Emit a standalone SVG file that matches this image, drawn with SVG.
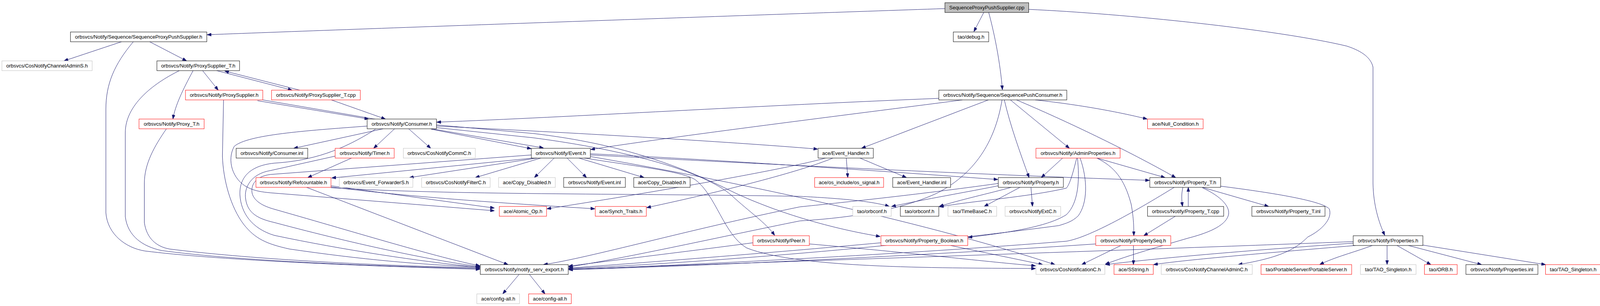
<svg xmlns="http://www.w3.org/2000/svg" width="4209" height="784" viewBox="0 0 4209 784" style="display:block">
<style>
.e{fill:none;stroke:#191970;stroke-width:1;marker-end:url(#ah)}
.nd rect{fill:#fff;stroke-width:1}
.k rect{stroke:#000}
.r rect{stroke:#ff0000}
.g rect{stroke:#bfbfbf}
.t rect{fill:#bfbfbf;stroke:#000}
.nd text{font-family:"Liberation Sans",Arial,Helvetica,sans-serif;font-size:13.3px;text-anchor:middle;fill:#000}
</style>
<defs>
<marker id="ah" viewBox="0 0 11 8" refX="11" refY="4" markerUnits="userSpaceOnUse" markerWidth="11" markerHeight="8" orient="auto"><path d="M0,0 L11,4 L0,8 z" fill="#191970" stroke="#191970" stroke-width="1"/></marker>
</defs>
<rect width="4209" height="784" fill="#fff"/>
<g id="diagram" transform="scale(0.975 1)">
<g id="connectors">
<path class="e" d="M2481,22 C2000,38 1000,72 544,89"/>
<path class="e" d="M2583,32 L2557,81"/>
<path class="e" d="M2596,32 C2612,90 2626,160 2632,230"/>
<path class="e" d="M2701,24 C2950,35 3350,75 3536,118 C3580,132 3600,150 3605,172 L3605,470 C3606,525 3620,570 3636,603"/>
<path class="e" d="M319,107 L168,156"/>
<path class="e" d="M393,107 L490,156"/>
<path class="e" d="M350,107 C300,165 278,215 278,280 L278,545 C282,600 330,635 380,643 C560,665 900,680 1260,690"/>
<path class="e" d="M471,181 C400,215 329,270 329,340 L329,555 C335,605 375,632 425,642 C600,665 900,680 1260,688"/>
<path class="e" d="M507,181 C480,230 460,270 454,305"/>
<path class="e" d="M532,181 L573,231"/>
<path class="e" d="M569,181 L767,231"/>
<path class="e" d="M787,231 L590,182"/>
<path class="e" d="M870,256 L1012,305"/>
<path class="e" d="M437,330 C405,375 379,420 379,470 L379,570 C385,612 412,632 445,638 C640,662 950,680 1260,686"/>
<path class="e" d="M587,256 L584,400 C586,460 605,530 640,575 C670,612 700,625 760,638 C950,665 1100,678 1260,684"/>
<path class="e" d="M676,258 L968,305"/>
<path class="e" d="M690,256 L1427,379"/>
<path class="e" d="M2465,252 C2000,270 1500,300 1147,313"/>
<path class="e" d="M2527,256 C2300,285 1800,345 1551,383"/>
<path class="e" d="M2595,256 L2262,380"/>
<path class="e" d="M2718,256 C2850,270 2950,290 3012,305"/>
<path class="e" d="M2653,256 L2808,380"/>
<path class="e" d="M2637,256 C2652,320 2678,390 2702,455"/>
<path class="e" d="M2669,256 C2800,310 2960,385 3087,455"/>
<path class="e" d="M2631,256 C2615,350 2570,440 2460,495 C2350,545 2200,560 2100,566 C1900,605 1650,660 1493,684"/>
<path class="e" d="M1006,330 L771,380"/>
<path class="e" d="M1036,330 L981,380"/>
<path class="e" d="M1073,330 L1131,380"/>
<path class="e" d="M1132,331 L1395,381"/>
<path class="e" d="M1146,323 C1500,340 1900,362 2147,382"/>
<path class="e" d="M964,323 C800,335 650,345 615,375 C595,410 610,460 650,480 C670,490 690,492 710,494 L1298,540"/>
<path class="e" d="M986,331 C900,385 820,412 720,418 C650,425 628,460 630,500 C633,545 660,585 720,603 C900,640 1100,670 1260,685"/>
<path class="e" d="M1146,320 L1400,342 C1600,365 1750,410 1900,480 C2000,530 2150,580 2311,606"/>
<path class="e" d="M1146,327 L1400,353 C1650,385 1850,440 1920,500 C1970,545 2010,570 2034,603"/>
<path class="e" d="M923,405 L808,455"/>
<path class="e" d="M880,400 L710,437 C660,445 640,480 645,510 C650,545 675,560 720,570 C950,630 1150,670 1260,683"/>
<path class="e" d="M1395,397 L710,447 C670,452 658,475 662,495 C667,515 690,528 720,536 C950,600 1150,660 1260,681"/>
<path class="e" d="M805,480 L1334,678"/>
<path class="e" d="M869,476 L1298,533"/>
<path class="e" d="M869,479 C1100,508 1400,525 1562,535"/>
<path class="e" d="M869,481 C1200,500 1600,495 2100,503 C2200,508 2290,515 2335,529"/>
<path class="e" d="M1400,405 L871,456"/>
<path class="e" d="M1410,405 L1075,455"/>
<path class="e" d="M1420,405 L1248,455"/>
<path class="e" d="M1455,405 L1403,455"/>
<path class="e" d="M1489,405 L1540,455"/>
<path class="e" d="M1520,405 L1691,455"/>
<path class="e" d="M1550,394 C1800,405 2200,430 2620,460"/>
<path class="e" d="M1550,397 C1900,415 2500,445 3018,462"/>
<path class="e" d="M1534,405 C1700,430 1790,440 1825,460 C1880,500 1900,600 1960,635 C2100,690 2500,686 2719,688"/>
<path class="e" d="M1550,401 C1900,460 2400,560 2770,678"/>
<path class="e" d="M1977,622 C1800,645 1600,668 1493,682"/>
<path class="e" d="M2125,625 C2400,648 2600,672 2719,681"/>
<path class="e" d="M2313,622 C2000,650 1700,672 1493,687"/>
<path class="e" d="M2496,629 L2738,678"/>
<path class="e" d="M2621,476 C2550,490 2420,512 2341,529"/>
<path class="e" d="M2655,480 C2600,495 2520,512 2466,529"/>
<path class="e" d="M2678,480 L2584,529"/>
<path class="e" d="M2707,480 L2711,529"/>
<path class="e" d="M2621,470 C2400,500 2200,520 2100,530 C1800,590 1550,660 1427,678"/>
<path class="e" d="M3106,480 C3102,495 3102,510 3105,529"/>
<path class="e" d="M3120,529 L3120,480"/>
<path class="e" d="M3157,480 L3331,529"/>
<path class="e" d="M3083,480 C2950,560 2850,610 2800,618 C2400,650 1800,680 1493,690"/>
<path class="e" d="M3157,481 C3210,505 3228,530 3226,548 C3222,575 3180,595 3120,610 C3050,630 2960,655 2902,677"/>
<path class="e" d="M3205,477 C3350,495 3470,515 3490,535 C3500,560 3470,590 3434,607 C3400,640 3360,660 3251,678"/>
<path class="e" d="M2943,629 L2840,678"/>
<path class="e" d="M2976,629 L2976,678"/>
<path class="e" d="M2877,625 C2500,650 1900,680 1493,691"/>
<path class="e" d="M3086,554 L3003,604"/>
<path class="e" d="M2790,405 L2734,455"/>
<path class="e" d="M2880,405 L3059,455"/>
<path class="e" d="M2880,405 C2925,427 2952,457 2970,523 C2977,560 2977,585 2977,604"/>
<path class="e" d="M2829,405 C2835,460 2832,520 2800,550 C2760,575 2680,593 2542,608"/>
<path class="e" d="M2836,405 C2856,460 2856,520 2831,553 C2815,568 2800,572 2780,578 C2300,640 1800,675 1493,688"/>
<path class="e" d="M2827,405 C2818,440 2810,470 2800,482 C2700,505 2550,515 2467,530"/>
<path class="e" d="M3553,619 C3000,640 2000,672 1493,690"/>
<path class="e" d="M3553,623 C3300,640 3050,660 2903,678"/>
<path class="e" d="M3559,629 C3300,650 3100,667 3029,678"/>
<path class="e" d="M3603,629 C3560,645 3500,660 3465,678"/>
<path class="e" d="M3642,629 L3642,678"/>
<path class="e" d="M3668,629 L3757,678"/>
<path class="e" d="M3698,629 L3890,678"/>
<path class="e" d="M3736,628 L4058,678"/>
<path class="e" d="M2222,405 L2226,455"/>
<path class="e" d="M2258,405 L2380,455"/>
<path class="e" d="M2167,405 C2100,425 1800,480 1436,535"/>
<path class="e" d="M2187,405 C2100,440 1900,490 1698,532"/>
<path class="e" d="M1363,703 L1320,753"/>
<path class="e" d="M1390,703 L1431,753"/>
</g>
<g id="n0" class="nd t"><rect x="2481" y="7" width="220" height="25"/><text x="2591" y="24">SequenceProxyPushSupplier.cpp</text></g>
<g id="n1" class="nd k"><rect x="185" y="82" width="358" height="25"/><text x="364" y="99">orbsvcs/Notify/Sequence/SequenceProxyPushSupplier.h</text></g>
<g id="n2" class="nd k"><rect x="2503" y="82" width="93" height="25"/><text x="2549.5" y="99">tao/debug.h</text></g>
<g id="n3" class="nd g"><rect x="5" y="156" width="237" height="25"/><text x="123.5" y="173">orbsvcs/CosNotifyChannelAdminS.h</text></g>
<g id="n4" class="nd k"><rect x="412" y="156" width="217" height="25"/><text x="520.5" y="173">orbsvcs/Notify/ProxySupplier_T.h</text></g>
<g id="n5" class="nd r"><rect x="487" y="231" width="203" height="25"/><text x="588.5" y="248">orbsvcs/Notify/ProxySupplier.h</text></g>
<g id="n6" class="nd r"><rect x="713" y="231" width="233" height="25"/><text x="829.5" y="248">orbsvcs/Notify/ProxySupplier_T.cpp</text></g>
<g id="n7" class="nd k"><rect x="2465" y="231" width="336" height="25"/><text x="2633" y="248">orbsvcs/Notify/Sequence/SequencePushConsumer.h</text></g>
<g id="n8" class="nd r"><rect x="365" y="305" width="171" height="25"/><text x="450.5" y="322">orbsvcs/Notify/Proxy_T.h</text></g>
<g id="n9" class="nd k"><rect x="964" y="305" width="182" height="25"/><text x="1055" y="322">orbsvcs/Notify/Consumer.h</text></g>
<g id="n10" class="nd r"><rect x="3013" y="305" width="146" height="25"/><text x="3086" y="322">ace/Null_Condition.h</text></g>
<g id="n11" class="nd k"><rect x="620" y="380" width="188" height="25"/><text x="714" y="397">orbsvcs/Notify/Consumer.inl</text></g>
<g id="n12" class="nd r"><rect x="880" y="380" width="155" height="25"/><text x="957.5" y="397">orbsvcs/Notify/Timer.h</text></g>
<g id="n13" class="nd g"><rect x="1059" y="380" width="189" height="25"/><text x="1153.5" y="397">orbsvcs/CosNotifyCommC.h</text></g>
<g id="n14" class="nd k"><rect x="1395" y="380" width="155" height="25"/><text x="1472.5" y="397">orbsvcs/Notify/Event.h</text></g>
<g id="n15" class="nd k"><rect x="2148" y="380" width="145" height="25"/><text x="2220.5" y="397">ace/Event_Handler.h</text></g>
<g id="n16" class="nd r"><rect x="2720" y="380" width="221" height="25"/><text x="2830.5" y="397">orbsvcs/Notify/AdminProperties.h</text></g>
<g id="n17" class="nd r"><rect x="672" y="455" width="197" height="25"/><text x="770.5" y="472">orbsvcs/Notify/Refcountable.h</text></g>
<g id="n18" class="nd g"><rect x="891" y="455" width="193" height="25"/><text x="987.5" y="472">orbsvcs/Event_ForwarderS.h</text></g>
<g id="n19" class="nd g"><rect x="1107" y="455" width="180" height="25"/><text x="1197" y="472">orbsvcs/CosNotifyFilterC.h</text></g>
<g id="n20" class="nd g"><rect x="1309" y="455" width="149" height="25"/><text x="1383.5" y="472">ace/Copy_Disabled.h</text></g>
<g id="n21" class="nd k"><rect x="1480" y="455" width="162" height="25"/><text x="1561" y="472">orbsvcs/Notify/Event.inl</text></g>
<g id="n22" class="nd k"><rect x="1664" y="455" width="148" height="25"/><text x="1738" y="472">ace/Copy_Disabled.h</text></g>
<g id="n23" class="nd r"><rect x="2139" y="455" width="181" height="25"/><text x="2229.5" y="472">ace/os_include/os_signal.h</text></g>
<g id="n24" class="nd k"><rect x="2344" y="455" width="152" height="25"/><text x="2420" y="472">ace/Event_Handler.inl</text></g>
<g id="n25" class="nd k"><rect x="2621" y="455" width="171" height="25"/><text x="2706.5" y="472">orbsvcs/Notify/Property.h</text></g>
<g id="n26" class="nd k"><rect x="3019" y="455" width="186" height="25"/><text x="3112" y="472">orbsvcs/Notify/Property_T.h</text></g>
<g id="n27" class="nd r"><rect x="1311" y="529" width="124" height="25"/><text x="1373" y="546">ace/Atomic_Op.h</text></g>
<g id="n28" class="nd r"><rect x="1563" y="529" width="134" height="25"/><text x="1630" y="546">ace/Synch_Traits.h</text></g>
<g id="n29" class="nd g"><rect x="2239" y="529" width="101" height="25"/><text x="2289.5" y="546">tao/orbconf.h</text></g>
<g id="n30" class="nd k"><rect x="2364" y="529" width="101" height="25"/><text x="2414.5" y="546">tao/orbconf.h</text></g>
<g id="n31" class="nd g"><rect x="2489" y="529" width="128" height="25"/><text x="2553" y="546">tao/TimeBaseC.h</text></g>
<g id="n32" class="nd g"><rect x="2639" y="529" width="146" height="25"/><text x="2712" y="546">orbsvcs/NotifyExtC.h</text></g>
<g id="n33" class="nd k"><rect x="3013" y="529" width="200" height="25"/><text x="3113" y="546">orbsvcs/Notify/Property_T.cpp</text></g>
<g id="n34" class="nd k"><rect x="3287" y="529" width="192" height="25"/><text x="3383" y="546">orbsvcs/Notify/Property_T.inl</text></g>
<g id="n35" class="nd r"><rect x="1977" y="604" width="148" height="25"/><text x="2051" y="621">orbsvcs/Notify/Peer.h</text></g>
<g id="n36" class="nd r"><rect x="2313" y="604" width="228" height="25"/><text x="2427" y="621">orbsvcs/Notify/Property_Boolean.h</text></g>
<g id="n37" class="nd r"><rect x="2877" y="604" width="197" height="25"/><text x="2975.5" y="621">orbsvcs/Notify/PropertySeq.h</text></g>
<g id="n38" class="nd k"><rect x="3553" y="604" width="183" height="25"/><text x="3644.5" y="621">orbsvcs/Notify/Properties.h</text></g>
<g id="n39" class="nd k"><rect x="1261" y="678" width="231" height="25"/><text x="1376.5" y="695">orbsvcs/Notify/notify_serv_export.h</text></g>
<g id="n40" class="nd g"><rect x="2720" y="678" width="181" height="25"/><text x="2810.5" y="695">orbsvcs/CosNotificationC.h</text></g>
<g id="n41" class="nd r"><rect x="2925" y="678" width="103" height="25"/><text x="2976.5" y="695">ace/SString.h</text></g>
<g id="n42" class="nd g"><rect x="3049" y="678" width="239" height="25"/><text x="3168.5" y="695">orbsvcs/CosNotifyChannelAdminC.h</text></g>
<g id="n43" class="nd r"><rect x="3311" y="678" width="238" height="25"/><text x="3430" y="695">tao/PortableServer/PortableServer.h</text></g>
<g id="n44" class="nd g"><rect x="3572" y="678" width="146" height="25"/><text x="3645" y="695">tao/TAO_Singleton.h</text></g>
<g id="n45" class="nd r"><rect x="3740" y="678" width="86" height="25"/><text x="3783" y="695">tao/ORB.h</text></g>
<g id="n46" class="nd k"><rect x="3849" y="678" width="189" height="25"/><text x="3943.5" y="695">orbsvcs/Notify/Properties.inl</text></g>
<g id="n47" class="nd r"><rect x="4058" y="678" width="145" height="25"/><text x="4130.5" y="695">tao/TAO_Singleton.h</text></g>
<g id="n48" class="nd g"><rect x="1252" y="753" width="112" height="25"/><text x="1308" y="770">ace/config-all.h</text></g>
<g id="n49" class="nd r"><rect x="1388" y="753" width="112" height="25"/><text x="1444" y="770">ace/config-all.h</text></g>
</g>
</svg>
